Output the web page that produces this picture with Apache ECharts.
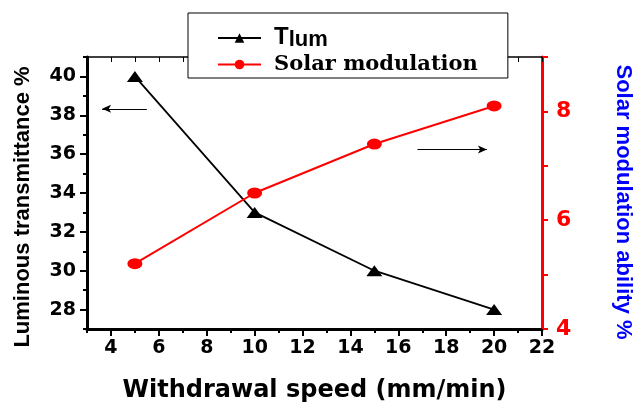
<!DOCTYPE html>
<html>
<head>
<meta charset="utf-8">
<script src="https://cdn.jsdelivr.net/npm/echarts@6/dist/echarts.min.js"></script>
<style>
  html, body { margin: 0; padding: 0; background: #fff; }
  #main { width: 636px; height: 403px; }
</style>
</head>
<body>
<div id="main"></div>
<script>
var speed = [5, 10, 15, 20];
var tlum = [40, 33, 30, 28];
var solarMod = [5.2, 6.5, 7.4, 8.1];
var xLabels = [4, 6, 8, 10, 12, 14, 16, 18, 20, 22];
var xMinor = [3, 5, 7, 9, 11, 13, 15, 17, 19, 21];
var leftLabels = [28, 30, 32, 34, 36, 38, 40];
var leftMinor = [27, 29, 31, 33, 35, 37, 39, 41];
var rightLabels = [4, 6, 8];

var myChart = echarts.init(document.getElementById('main'));

function pairs(xs, ys) {
  var out = [];
  for (var i = 0; i < xs.length; i++) out.push([xs[i], ys[i]]);
  return out;
}

var tickFont = { fontFamily: 'DejaVu Sans', fontWeight: 'bold', fontSize: 19, color: '#000' };

var option = {
  animation: false,
  grid: { left: 87, right: 94, top: 57, bottom: 74, containLabel: false, outerBoundsMode: 'none' },
  legend: {
    left: 188, top: 13,
    orient: 'vertical',
    padding: [7, 30, 3, 29],
    itemGap: 3,
    itemWidth: 43,
    itemHeight: 12,
    backgroundColor: '#fff',
    borderColor: '#000',
    borderWidth: 1,
    data: ['Tlum', 'Solar modulation'],
    formatter: function (name) {
      if (name === 'Tlum') return '{t|T}{s|lum}';
      return '{m|' + name + '}';
    },
    textStyle: {
      padding: [0, 0, 0, 8],
      rich: {
        t: { fontFamily: 'Liberation Sans', fontWeight: 'bold', fontSize: 24, color: '#000', lineHeight: 26, verticalAlign: 'top' },
        s: { fontFamily: 'Liberation Sans', fontWeight: 'bold', fontSize: 22, color: '#000', lineHeight: 26, verticalAlign: 'bottom', padding: [9, 0, 0, 0] },
        m: { fontFamily: 'DejaVu Serif', fontWeight: 'bold', fontSize: 21, color: '#000', lineHeight: 26 }
      }
    }
  },
  xAxis: [
    {
      type: 'value', min: 3, max: 22, position: 'bottom',
      name: 'Withdrawal speed (mm/min)',
      nameLocation: 'middle', nameGap: 50,
      nameTextStyle: { fontFamily: 'DejaVu Sans', fontWeight: 'bold', fontSize: 24, color: '#000' },
      axisLine: { lineStyle: { color: '#000', width: 3 } },
      axisTick: { customValues: xLabels, length: 7, lineStyle: { color: '#000', width: 2 } },
      axisLabel: Object.assign({ customValues: xLabels, margin: 10 }, tickFont),
      splitLine: { show: false }
    },
    {
      type: 'value', min: 3, max: 22, position: 'bottom',
      axisLine: { show: false },
      axisTick: { customValues: xMinor, length: 4, lineStyle: { color: '#000', width: 2 } },
      axisLabel: { show: false },
      splitLine: { show: false }
    },
    {
      type: 'value', min: 3, max: 22, interval: 1, position: 'top',
      axisLine: { lineStyle: { color: '#000', width: 1.5 } },
      axisTick: { inside: true, length: 5, lineStyle: { color: '#000', width: 1 } },
      axisLabel: { show: false },
      splitLine: { show: false }
    }
  ],
  yAxis: [
    {
      type: 'value', min: 27, max: 41, position: 'left',
      name: 'Luminous transmittance %',
      nameLocation: 'middle', nameGap: 53, nameRotate: 90,
      nameTextStyle: { fontFamily: 'Liberation Sans', fontWeight: 'bold', fontSize: 22, color: '#000', padding: [0, 28, 0, 0] },
      axisLine: { lineStyle: { color: '#000', width: 3 } },
      axisTick: { customValues: leftLabels, length: 7, lineStyle: { color: '#000', width: 2 } },
      axisLabel: Object.assign({ customValues: leftLabels, margin: 11 }, tickFont),
      splitLine: { show: false }
    },
    {
      type: 'value', min: 27, max: 41, position: 'left',
      axisLine: { show: false },
      axisTick: { customValues: leftMinor, length: 4, lineStyle: { color: '#000', width: 2 } },
      axisLabel: { show: false },
      splitLine: { show: false }
    },
    {
      type: 'value', min: 4, max: 9, interval: 1, position: 'right',
      name: 'Solar modulation ability %',
      nameLocation: 'middle', nameGap: 70, nameRotate: -90,
      nameTextStyle: { fontFamily: 'Liberation Sans', fontWeight: 'bold', fontSize: 22, color: '#0000ff', padding: [0, 0, 0, 18] },
      axisLine: { lineStyle: { color: '#ff0000', width: 3 } },
      axisTick: { length: 6, lineStyle: { color: '#ff0000', width: 2 } },
      axisLabel: {
        customValues: rightLabels, margin: 14,
        fontFamily: 'DejaVu Sans', fontWeight: 'bold', fontSize: 22, color: '#ff0000'
      },
      splitLine: { show: false }
    }
  ],
  series: [
    {
      name: 'Tlum', type: 'line', xAxisIndex: 0, yAxisIndex: 0,
      data: pairs(speed, tlum),
      symbol: 'triangle', symbolSize: [16, 11],
      itemStyle: { color: '#000' },
      lineStyle: { color: '#000', width: 1.8 },
      markLine: {
        silent: true, symbol: ['arrow', 'none'], symbolSize: [6, 9],
        label: { show: false },
        lineStyle: { color: '#000', width: 1, type: 'solid' },
        data: [[{ coord: [3.63, 38.33] }, { coord: [5.5, 38.33] }]]
      }
    },
    {
      name: 'Solar modulation', type: 'line', xAxisIndex: 0, yAxisIndex: 2,
      data: pairs(speed, solarMod),
      symbol: 'circle', symbolSize: [15, 11],
      itemStyle: { color: '#ff0000' },
      lineStyle: { color: '#ff0000', width: 2 },
      markLine: {
        silent: true, symbol: ['none', 'arrow'], symbolSize: [6, 9],
        label: { show: false },
        lineStyle: { color: '#000', width: 1, type: 'solid' },
        data: [[{ coord: [16.8, 7.3] }, { coord: [19.7, 7.3] }]]
      }
    }
  ]
};

myChart.setOption(option);
</script>
</body>
</html>
